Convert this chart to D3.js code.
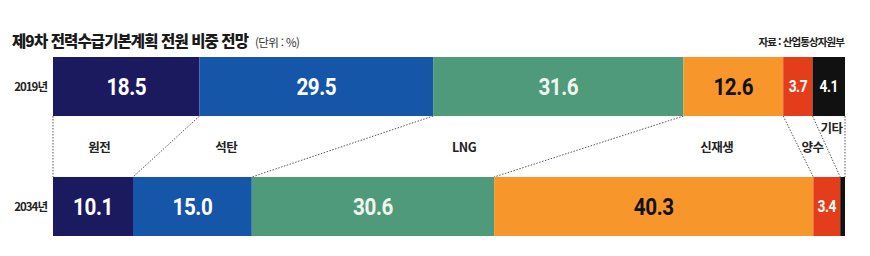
<!DOCTYPE html>
<html lang="ko">
<head>
<meta charset="UTF-8">
<title>제9차 전력수급기본계획 전원 비중 전망</title>
<style>
    body { margin: 0; background: #fff; }
    svg { display: block; }
    text { font-family: "Noto Sans CJK KR", "Noto Sans", sans-serif; }
    .num { font-family: Roboto, "Liberation Sans", sans-serif; font-weight: 700; }
</style>
</head>
<body>
<div id="chart"></div>
<script src="https://cdnjs.cloudflare.com/ajax/libs/d3/7.8.5/d3.min.js"></script>
<script>
// data
const years = ["2019년", "2034년"];
const sources = ["원전", "석탄", "LNG", "신재생", "양수", "기타"];
const share2019 = [18.5, 29.5, 31.6, 12.6, 3.7, 4.1];
const share2034 = [10.1, 15.0, 30.6, 40.3, 3.4, 0.6];
const colors = ["#1c1a5e", "#1556a8", "#4f9a7a", "#f7962b", "#e33d1c", "#111111"];
const textColors = ["#ffffff", "#ffffff", "#eef5ef", "#111111", "#ffffff", "#ffffff"];

const width = 870, height = 256;

const svg = d3.select("#chart").append("svg")
    .attr("width", width)
    .attr("height", height);

const x = d3.scaleLinear().domain([0, 100]).range([53, 845]);
const y = d3.scaleBand().domain(years).range([57, 236]).paddingInner(0.508);

// stack each year into [start, end] pieces
function stackRow(vals) {
    let acc = 0;
    return vals.map((v, i) => {
        const d = { i: i, v: v, x0: acc, x1: acc + v };
        acc += v;
        return d;
    });
}
const rows = [stackRow(share2019), stackRow(share2034)];

// title
svg.append("text")
    .attr("x", 12).attr("y", 47)
    .attr("font-size", 15.5).attr("font-weight", 900)
    .attr("letter-spacing", -0.9)
    .attr("fill", "#1a1a1a")
    .text("제9차 전력수급기본계획 전원 비중 전망");

svg.append("text")
    .attr("x", 255).attr("y", 47)
    .attr("font-size", 11.5)
    .attr("letter-spacing", -0.6)
    .attr("fill", "#333")
    .text("(단위 : %)");

svg.append("text")
    .attr("x", 844).attr("y", 46)
    .attr("text-anchor", "end")
    .attr("font-size", 10.5)
    .attr("font-weight", 700)
    .attr("letter-spacing", -0.9)
    .attr("fill", "#222")
    .text("자료 : 산업통상자원부");

// dotted connectors between the two bars
const yTop = y(years[0]) + y.bandwidth();
const yBot = y(years[1]);
const bounds = [0].concat(rows[0].map(d => d.x1));
const bounds2 = [0].concat(rows[1].map(d => d.x1));
svg.append("g").selectAll("line")
    .data(bounds.map((b, i) => [b, bounds2[i]]))
    .join("line")
    .attr("x1", d => x(d[0]))
    .attr("x2", d => x(d[1]))
    .attr("y1", yTop)
    .attr("y2", yBot)
    .attr("stroke", "#555")
    .attr("stroke-width", 1)
    .attr("stroke-dasharray", "1.5,1.5");

// bars
rows.forEach((row, r) => {
    const g = svg.append("g");
    g.selectAll("rect")
        .data(row)
        .join("rect")
        .attr("x", d => x(d.x0))
        .attr("y", y(years[r]))
        .attr("width", d => x(d.x1) - x(d.x0))
        .attr("height", y.bandwidth())
        .attr("fill", d => colors[d.i]);

    // condensed-looking value labels
    g.selectAll("text")
        .data(row.filter(d => d.v >= 1))
        .join("text")
        .attr("class", "num")
        .attr("transform", d => "translate(" + x((d.x0 + d.x1) / 2) + "," + (y(years[r]) + y.bandwidth() / 2) + ") scale(0.86,1)")
        .attr("dy", "0.36em")
        .attr("text-anchor", "middle")
        .attr("font-size", d => d.v < 5 ? 16 : 24)
        .attr("letter-spacing", -0.5)
        .attr("fill", d => textColors[d.i])
        .text(d => d.v.toFixed(1));

    svg.append("text")
        .attr("x", 47)
        .attr("y", y(years[r]) + y.bandwidth() / 2)
        .attr("dy", "0.36em")
        .attr("text-anchor", "end")
        .attr("font-size", 11.5)
        .attr("font-weight", 700)
        .attr("letter-spacing", -1)
        .attr("fill", "#222")
        .text(years[r]);
});

// source labels, placed inside the band between the connectors
const labelDx = [-10, -27, 0, 24, 0, 0];
const labelY = [147, 147, 147, 147, 147, 128];
svg.append("g").selectAll("text")
    .data(sources)
    .join("text")
    .attr("x", (s, i) => {
        const t = (labelY[i] - yTop) / (yBot - yTop);
        const left = bounds[i] + (bounds2[i] - bounds[i]) * t;
        const right = bounds[i + 1] + (bounds2[i + 1] - bounds[i + 1]) * t;
        return (x(left) + x(right)) / 2 + labelDx[i];
    })
    .attr("y", (s, i) => labelY[i])
    .attr("dy", "0.36em")
    .attr("text-anchor", "middle")
    .attr("font-size", 12.5)
    .attr("font-weight", 700)
    .attr("letter-spacing", -0.5)
    .attr("fill", "#222")
    .text(s => s);
</script>
</body>
</html>
